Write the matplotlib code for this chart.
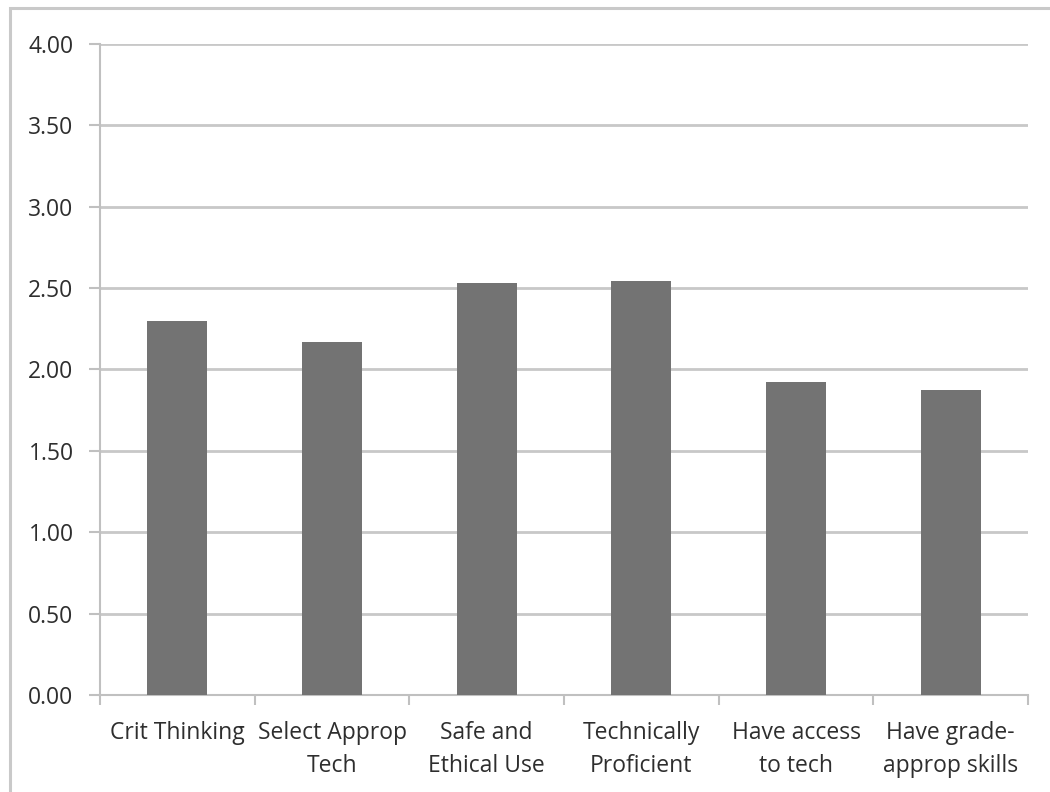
import matplotlib
matplotlib.use("Agg")
import matplotlib.pyplot as plt
from matplotlib.patches import Rectangle

categories = ["Crit Thinking", "Select Approp\nTech", "Safe and\nEthical Use",
              "Technically\nProficient", "Have access\nto tech", "Have grade-\napprop skills"]
values = [2.30, 2.17, 2.53, 2.545, 1.925, 1.875]
yticks = [0.0, 0.5, 1.0, 1.5, 2.0, 2.5, 3.0, 3.5, 4.0]

plt.rcParams['font.family'] = ['Open Sans', 'DejaVu Sans']

W, H = 1050, 792
fig = plt.figure(figsize=(W / 100, H / 100), dpi=100)
fig.patch.set_facecolor("white")

# outer chart frame
fig.patches.append(Rectangle((10 / W, -0.01), 1.2, (H - 8) / H + 0.01,
                             transform=fig.transFigure, fill=False,
                             edgecolor="#c9c9c9", linewidth=2.2))

ax = fig.add_axes([100 / W, 1 - 695 / H, (1028 - 100) / W, (695 - 44) / H])
x = list(range(len(categories)))
ax.bar(x, values, width=0.39, color="#737373", zorder=3)

ax.set_xlim(-0.5, len(categories) - 0.5)
ax.set_ylim(0, 4)
ax.set_yticks(yticks)
ax.set_yticklabels([f"{v:.2f}" for v in yticks])
ax.yaxis.grid(True, color="#c8c8c8", linewidth=2.0, zorder=0)
ax.set_axisbelow(True)

for s in ["top", "right"]:
    ax.spines[s].set_visible(False)
for s in ["left", "bottom"]:
    ax.spines[s].set_color("#c0c0c0")
    ax.spines[s].set_linewidth(1.5)

ax.set_xticks([i - 0.5 for i in range(len(categories) + 1)], minor=False)
ax.set_xticklabels([])
ax.set_xticks(x, minor=True)
ax.set_xticklabels(categories, minor=True, linespacing=1.5)
ax.tick_params(axis="x", which="major", length=7, width=1.5, color="#c0c0c0")
ax.tick_params(axis="x", which="minor", length=0, pad=19, labelsize=16.5, labelcolor="#2e2e2e")
ax.tick_params(axis="y", length=8, width=1.5, color="#c0c0c0", pad=11,
               labelsize=16.5, labelcolor="#2e2e2e")

fig.savefig("out.png", dpi=100, facecolor="white")
